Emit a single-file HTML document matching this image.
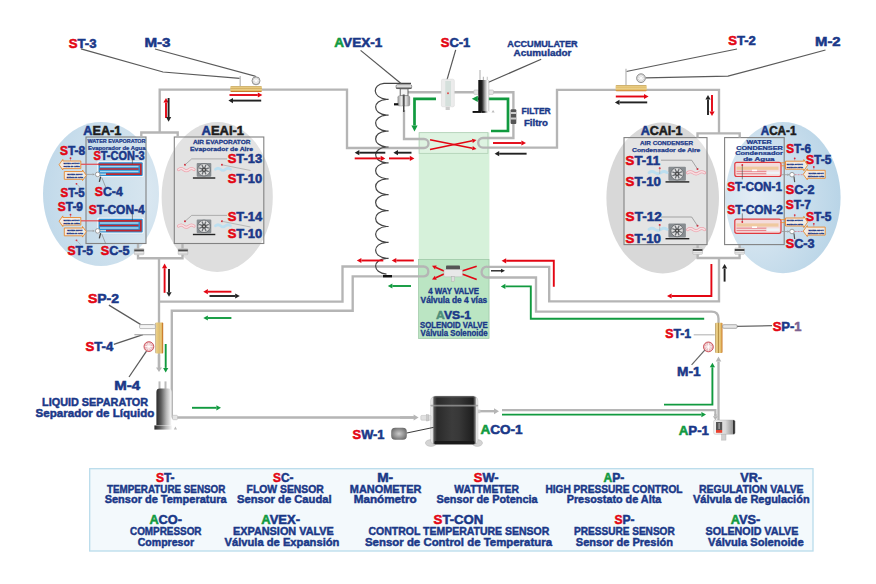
<!DOCTYPE html>
<html><head><meta charset="utf-8"><title>Refrigeration circuit diagram</title>
<style>
html,body{margin:0;padding:0;background:#fff;overflow:hidden;}
svg{display:block;}
text{font-family:"Liberation Sans",sans-serif;font-weight:bold;fill:#1a3888;stroke:#1a3888;stroke-width:0.35px;}
</style></head><body>
<svg width="876" height="584" viewBox="0 0 876 584">
<defs>
<radialGradient id="gBlueL" cx="0.75" cy="0.5" r="0.8"><stop offset="0" stop-color="#e0ebf3"/><stop offset="1" stop-color="#bfd8e9"/></radialGradient>
<radialGradient id="gBlueR" cx="0.25" cy="0.5" r="0.8"><stop offset="0" stop-color="#e3edf5"/><stop offset="1" stop-color="#b6d3e6"/></radialGradient>
<linearGradient id="gCyl" x1="0" x2="1" y1="0" y2="0"><stop offset="0" stop-color="#111"/><stop offset="0.35" stop-color="#222"/><stop offset="0.6" stop-color="#999"/><stop offset="0.85" stop-color="#f2f2f2"/><stop offset="1" stop-color="#fff"/></linearGradient>
<linearGradient id="gGold" x1="0" x2="0" y1="0" y2="1"><stop offset="0" stop-color="#9c7a3a"/><stop offset="0.12" stop-color="#e9cf8a"/><stop offset="0.4" stop-color="#e4c272"/><stop offset="0.46" stop-color="#b08a40"/><stop offset="0.54" stop-color="#e9cf8a"/><stop offset="0.82" stop-color="#e2b860"/><stop offset="0.92" stop-color="#c9782a"/><stop offset="1" stop-color="#c9782a"/></linearGradient>
<linearGradient id="gGoldV" x1="0" x2="1" y1="0" y2="0"><stop offset="0" stop-color="#9c7a3a"/><stop offset="0.12" stop-color="#e9cf8a"/><stop offset="0.4" stop-color="#e4c272"/><stop offset="0.46" stop-color="#b08a40"/><stop offset="0.54" stop-color="#e9cf8a"/><stop offset="0.82" stop-color="#e2b860"/><stop offset="0.92" stop-color="#c9782a"/><stop offset="1" stop-color="#c9782a"/></linearGradient>
<linearGradient id="gWbox" x1="0" x2="1" y1="0" y2="0"><stop offset="0" stop-color="#c6dcea"/><stop offset="1" stop-color="#d6e5ef"/></linearGradient>
<linearGradient id="gMetal" x1="0" x2="1" y1="0" y2="0"><stop offset="0" stop-color="#999"/><stop offset="0.35" stop-color="#f4f4f4"/><stop offset="0.7" stop-color="#ddd"/><stop offset="1" stop-color="#8a8a8a"/></linearGradient>
</defs>
<ellipse cx="101" cy="194" rx="58" ry="72" fill="url(#gBlueL)"/>
<ellipse cx="217.2" cy="197" rx="55.6" ry="75" fill="#dedede"/>
<ellipse cx="662.7" cy="198" rx="56.3" ry="75.5" fill="#d8d8d8"/>
<ellipse cx="783" cy="197.6" rx="57.6" ry="75.6" fill="url(#gBlueR)"/>
<rect x="418.8" y="132.3" width="70.6" height="206.2" fill="#d6f1da"/>
<rect x="418.5" y="259" width="70.5" height="79.5" fill="#bbe5c3"/>
<rect x="419.1" y="132.7" width="68.8" height="20.6" fill="#def3e1" stroke="#a9c9ae" stroke-width="0.7"/>
<rect x="418.5" y="259.5" width="70.5" height="79" fill="none" stroke="#9dc7a5" stroke-width="0.7"/>
<rect x="86" y="137" width="60" height="106.5" fill="url(#gWbox)" stroke="#828282" stroke-width="1.1"/>
<rect x="174.3" y="137" width="89.5" height="106.5" fill="#fff" fill-opacity="0.15" stroke="#828282" stroke-width="1.1"/>
<rect x="624" y="137.6" width="83" height="107" fill="#fff" fill-opacity="0.3" stroke="#828282" stroke-width="1.1"/>
<rect x="724.6" y="137.6" width="59.6" height="107" fill="none" stroke="#828282" stroke-width="1.1"/>
<polyline points="159.7,132.5 159.7,89.6 347.0,89.6 347.0,148.0 424.0,148.0" fill="none" stroke="#b5b5b5" stroke-width="2.35" stroke-linejoin="miter"/>
<polyline points="141.3,137.0 141.3,132.5 177.7,132.5 177.7,137.0" fill="none" stroke="#b5b5b5" stroke-width="2.35" stroke-linejoin="miter"/>
<polyline points="138.0,244.0 138.0,258.2 182.5,258.2 182.5,244.0" fill="none" stroke="#b5b5b5" stroke-width="2.35" stroke-linejoin="miter"/>
<polyline points="159.0,258.2 159.0,368.0" fill="none" stroke="#b5b5b5" stroke-width="2.35" stroke-linejoin="miter"/>
<polyline points="159.0,301.6 342.5,301.6 342.5,266.5 424.0,266.5" fill="none" stroke="#b5b5b5" stroke-width="2.35" stroke-linejoin="miter"/>
<polyline points="424.0,276.4 352.7,276.4 352.7,310.7 171.8,310.7 171.8,417.5" fill="none" stroke="#b5b5b5" stroke-width="2.35" stroke-linejoin="miter"/>
<path d="M424,139 a4.5,4.5 0 0 1 0,9" fill="none" stroke="#b5b5b5" stroke-width="2.35"/>
<path d="M424,266.5 a5,5 0 0 1 0,9.9" fill="none" stroke="#b5b5b5" stroke-width="2.35"/>
<path d="M483,138 a4.8,4.8 0 0 0 0,9.6" fill="none" stroke="#b5b5b5" stroke-width="2.35"/>
<path d="M487,266.6 a5.4,5.4 0 0 0 0,10.9" fill="none" stroke="#b5b5b5" stroke-width="2.35"/>
<polyline points="424.0,139.0 404.0,139.0 404.0,110.0" fill="none" stroke="#b5b5b5" stroke-width="2.35" stroke-linejoin="miter"/>
<polyline points="408.0,92.2 513.4,92.2 513.4,138.0 483.0,138.0" fill="none" stroke="#b5b5b5" stroke-width="2.35" stroke-linejoin="miter"/>
<polyline points="483.0,147.6 557.0,147.6 557.0,89.8 719.0,89.8 719.0,133.0" fill="none" stroke="#b5b5b5" stroke-width="2.35" stroke-linejoin="miter"/>
<polyline points="697.5,137.6 697.5,133.3 739.7,133.3 739.7,137.6" fill="none" stroke="#b5b5b5" stroke-width="2.35" stroke-linejoin="miter"/>
<polyline points="697.6,245.0 697.6,258.0 739.6,258.0 739.6,245.0" fill="none" stroke="#b5b5b5" stroke-width="2.35" stroke-linejoin="miter"/>
<polyline points="719.0,258.0 719.0,301.3 549.2,301.3 549.2,266.8 487.0,266.8" fill="none" stroke="#b5b5b5" stroke-width="2.35" stroke-linejoin="miter"/>
<path d="M487,277.5 H536 V311.6 H711.5 Q718.5,311.6 718.5,318.6 V353" fill="none" stroke="#b5b5b5" stroke-width="2.35"/>
<polyline points="502.0,410.2 715.4,410.2 715.4,416.0" fill="none" stroke="#b5b5b5" stroke-width="2.2" stroke-linejoin="miter"/>
<polyline points="715.4,414.0 715.4,416.3" fill="none" stroke="#b5b5b5" stroke-width="2.2"/>
<polygon points="715.4,420.3 712.9,416.3 717.9,416.3" fill="#b5b5b5"/>
<polyline points="171.8,417.5 414.0,417.5" fill="none" stroke="#b5b5b5" stroke-width="2.35" stroke-linejoin="miter"/>
<path d="M411,83.4 H384 C372,84.4 372,97.9 386.5,99.3 M388.6,99.3 L385,99.3 L386.5,99.3 C372,100.3 372,113.8 386.5,115.2 M388.6,115.2 L385,115.2 L386.5,115.2 C372,116.2 372,129.7 386.5,131.1 M388.6,131.1 L385,131.1 L386.5,131.1 C372,132.1 372,145.6 386.5,147.0 M388.6,147.0 L385,147.0 L386.5,147.0 C372,148.0 372,161.5 386.5,162.9 M388.6,162.9 L385,162.9 L386.5,162.9 C372,163.9 372,177.4 386.5,178.8 M388.6,178.8 L385,178.8 L386.5,178.8 C372,179.8 372,193.3 386.5,194.7 M388.6,194.7 L385,194.7 L386.5,194.7 C372,195.7 372,209.2 386.5,210.6 M388.6,210.6 L385,210.6 L386.5,210.6 C372,211.6 372,225.1 386.5,226.5 M388.6,226.5 L385,226.5 L386.5,226.5 C372,227.5 372,241.0 386.5,242.4 M388.6,242.4 L385,242.4 L386.5,242.4 C372,243.4 372,256.9 386.5,258.3 M388.6,258.3 L385,258.3 L386.5,258.3 C372,259.3 372,272.8 386.5,274.2" fill="none" stroke="#444" stroke-width="1.2"/>
<rect x="383" y="275" width="9" height="2.4" fill="#111"/>
<polyline points="229.5,95.0 257.8,95.0" fill="none" stroke="#e30613" stroke-width="1.9"/>
<polygon points="262.4,95.0 257.8,97.6 257.8,92.4" fill="#e30613"/>
<polyline points="261.2,100.6 233.0,100.6" fill="none" stroke="#222" stroke-width="1.9"/>
<polygon points="228.4,100.6 233.0,98.0 233.0,103.2" fill="#222"/>
<polyline points="166.0,118.0 166.0,102.6" fill="none" stroke="#e30613" stroke-width="1.9"/>
<polygon points="166.0,98.0 168.6,102.6 163.4,102.6" fill="#e30613"/>
<polyline points="168.6,98.0 168.6,117.1" fill="none" stroke="#222" stroke-width="1.9"/>
<polygon points="168.6,121.7 166.0,117.1 171.2,117.1" fill="#222"/>
<polyline points="615.8,96.5 644.0,96.5" fill="none" stroke="#e30613" stroke-width="1.9"/>
<polygon points="648.6,96.5 644.0,99.1 644.0,93.9" fill="#e30613"/>
<polyline points="647.2,102.4 619.5,102.4" fill="none" stroke="#222" stroke-width="1.9"/>
<polygon points="614.9,102.4 619.5,99.8 619.5,105.0" fill="#222"/>
<polyline points="708.0,115.0 708.0,99.6" fill="none" stroke="#222" stroke-width="1.9"/>
<polygon points="708.0,95.0 710.6,99.6 705.4,99.6" fill="#222"/>
<polyline points="712.0,95.0 712.0,111.4" fill="none" stroke="#e30613" stroke-width="1.9"/>
<polygon points="712.0,116.0 709.4,111.4 714.6,111.4" fill="#e30613"/>
<polyline points="493.0,143.0 521.4,143.0" fill="none" stroke="#e30613" stroke-width="1.9"/>
<polygon points="526.0,143.0 521.4,145.6 521.4,140.4" fill="#e30613"/>
<polyline points="526.6,153.7 499.2,153.7" fill="none" stroke="#222" stroke-width="1.9"/>
<polygon points="494.6,153.7 499.2,151.1 499.2,156.3" fill="#222"/>
<polyline points="411.5,152.7 398.0,152.7" fill="none" stroke="#222" stroke-width="1.9"/>
<polygon points="393.4,152.7 398.0,150.1 398.0,155.3" fill="#222"/>
<polyline points="389.0,158.4 409.8,158.4" fill="none" stroke="#e30613" stroke-width="1.9"/>
<polygon points="414.4,158.4 409.8,161.0 409.8,155.8" fill="#e30613"/>
<polyline points="385.3,152.7 359.3,152.7" fill="none" stroke="#222" stroke-width="1.9"/>
<polygon points="354.7,152.7 359.3,150.1 359.3,155.3" fill="#222"/>
<polyline points="354.7,158.4 380.7,158.4" fill="none" stroke="#e30613" stroke-width="1.9"/>
<polygon points="385.3,158.4 380.7,161.0 380.7,155.8" fill="#e30613"/>
<polyline points="164.6,292.8 164.6,268.2" fill="none" stroke="#e30613" stroke-width="1.9"/>
<polygon points="164.6,263.6 167.2,268.2 162.0,268.2" fill="#e30613"/>
<polyline points="169.0,269.0 169.0,292.2" fill="none" stroke="#222" stroke-width="1.9"/>
<polygon points="169.0,296.8 166.4,292.2 171.6,292.2" fill="#222"/>
<polyline points="231.4,291.7 207.9,291.7" fill="none" stroke="#e30613" stroke-width="1.9"/>
<polygon points="203.3,291.7 207.9,289.1 207.9,294.3" fill="#e30613"/>
<polyline points="209.5,296.0 235.2,296.0" fill="none" stroke="#222" stroke-width="1.9"/>
<polygon points="239.8,296.0 235.2,298.6 235.2,293.4" fill="#222"/>
<polyline points="231.4,318.0 207.9,318.0" fill="none" stroke="#119a3f" stroke-width="1.9"/>
<polygon points="203.3,318.0 207.9,315.4 207.9,320.6" fill="#119a3f"/>
<polyline points="165.7,344.0 165.7,367.9" fill="none" stroke="#119a3f" stroke-width="1.9"/>
<polygon points="165.7,372.5 163.1,367.9 168.3,367.9" fill="#119a3f"/>
<polyline points="413.8,260.5 396.3,260.5" fill="none" stroke="#e30613" stroke-width="1.9"/>
<polygon points="391.7,260.5 396.3,257.9 396.3,263.1" fill="#e30613"/>
<polyline points="383.3,260.5 361.4,260.5" fill="none" stroke="#e30613" stroke-width="1.9"/>
<polygon points="356.8,260.5 361.4,257.9 361.4,263.1" fill="#e30613"/>
<polyline points="411.0,286.0 392.4,286.0" fill="none" stroke="#119a3f" stroke-width="1.9"/>
<polygon points="387.8,286.0 392.4,283.4 392.4,288.6" fill="#119a3f"/>
<polyline points="192.0,407.8 216.4,407.8" fill="none" stroke="#119a3f" stroke-width="1.9"/>
<polygon points="221.0,407.8 216.4,410.4 216.4,405.2" fill="#119a3f"/>
<polyline points="553.8,286.8 553.8,260.8 506.2,260.8" fill="none" stroke="#e30613" stroke-width="1.9"/>
<polygon points="501.6,260.8 506.2,258.2 506.2,263.4" fill="#e30613"/>
<polyline points="704.2,318.8 530.8,318.8 530.8,286.4 505.4,286.4" fill="none" stroke="#119a3f" stroke-width="1.9"/>
<polygon points="500.8,286.4 505.4,283.8 505.4,289.0" fill="#119a3f"/>
<polyline points="711.4,264.0 711.4,296.0 671.6,296.0" fill="none" stroke="#e30613" stroke-width="1.9"/>
<polygon points="667.0,296.0 671.6,293.4 671.6,298.6" fill="#e30613"/>
<polyline points="724.6,281.6 724.6,268.6" fill="none" stroke="#222" stroke-width="1.9"/>
<polygon points="724.6,264.0 727.2,268.6 722.0,268.6" fill="#222"/>
<polyline points="502.0,414.6 701.4,414.6" fill="none" stroke="#119a3f" stroke-width="1.9"/>
<polygon points="706.0,414.6 701.4,417.2 701.4,412.0" fill="#119a3f"/>
<polyline points="664.0,404.6 712.4,404.6 712.4,367.3" fill="none" stroke="#119a3f" stroke-width="1.9"/>
<polygon points="712.4,362.7 715.0,367.3 709.8,367.3" fill="#119a3f"/>
<polyline points="491.0,270.8 501.0,270.8" fill="none" stroke="#222" stroke-width="1.4"/>
<polygon points="505.0,270.8 501.0,272.8 501.0,268.8" fill="#222"/>
<polyline points="718.5,420.0 718.5,361.6" fill="none" stroke="#b5b5b5" stroke-width="2.35"/>
<polygon points="718.5,356.6 721.3,361.6 715.7,361.6" fill="#b5b5b5"/>
<polyline points="159.0,355.0 159.0,367.5" fill="none" stroke="#b5b5b5" stroke-width="2.35"/>
<polygon points="159.0,372.0 156.0,367.5 162.0,367.5" fill="#b5b5b5"/>
<polyline points="400.0,417.5 413.6,417.5" fill="none" stroke="#b5b5b5" stroke-width="2.35"/>
<polygon points="418.6,417.5 413.6,420.5 413.6,414.5" fill="#b5b5b5"/>
<polyline points="478.0,411.2 494.0,411.2" fill="none" stroke="#b5b5b5" stroke-width="2.35"/>
<polygon points="499.0,411.2 494.0,414.2 494.0,408.2" fill="#b5b5b5"/>
<polyline points="436.0,98.8 414.5,98.8 414.5,125.5" fill="none" stroke="#119a3f" stroke-width="2.7"/>
<polygon points="414.5,131.5 411.4,125.5 417.6,125.5" fill="#119a3f"/>
<polyline points="491.0,131.0 508.0,131.0 508.0,98.8 477.8,98.8" fill="none" stroke="#119a3f" stroke-width="2.7"/>
<polygon points="471.8,98.8 477.8,95.7 477.8,101.9" fill="#119a3f"/>
<polyline points="430.0,139.7 472.4,148.2" fill="none" stroke="#e30613" stroke-width="1.6"/>
<polygon points="476.5,149.0 472.0,150.3 472.8,146.0" fill="#e30613"/>
<polyline points="430.0,149.5 472.4,140.8" fill="none" stroke="#e30613" stroke-width="1.6"/>
<polygon points="476.5,140.0 472.8,143.0 471.9,138.7" fill="#e30613"/>
<rect x="89.7" y="468.7" width="723.3" height="82.3" fill="#f3f9fc" stroke="#b9dcec" stroke-width="1.3"/>
<text x="155.9" y="482.2" font-size="13.2" textLength="18.7" lengthAdjust="spacingAndGlyphs" style="stroke-width:0.55px"><tspan fill="#e30613" stroke="#e30613">S</tspan>T-</text>
<text x="107.0" y="492.8" font-size="10.6" textLength="118.3" lengthAdjust="spacingAndGlyphs" style="stroke-width:0.45px">TEMPERATURE SENSOR</text>
<text x="104.7" y="503.3" font-size="10.6" textLength="121.9" lengthAdjust="spacingAndGlyphs" style="stroke-width:0.45px">Sensor de Temperatura</text>
<text x="273.0" y="482.2" font-size="13.2" textLength="20.4" lengthAdjust="spacingAndGlyphs" style="stroke-width:0.55px"><tspan fill="#e30613" stroke="#e30613">S</tspan>C-</text>
<text x="246.6" y="492.8" font-size="10.6" textLength="77.2" lengthAdjust="spacingAndGlyphs" style="stroke-width:0.45px">FLOW SENSOR</text>
<text x="237.0" y="503.3" font-size="10.6" textLength="94.6" lengthAdjust="spacingAndGlyphs" style="stroke-width:0.45px">Sensor de Caudal</text>
<text x="377.2" y="482.2" font-size="13.2" textLength="16.0" lengthAdjust="spacingAndGlyphs" style="stroke-width:0.55px"><tspan fill="#1a3888" stroke="#1a3888"></tspan>M-</text>
<text x="349.8" y="492.8" font-size="10.6" textLength="71.6" lengthAdjust="spacingAndGlyphs" style="stroke-width:0.45px">MANOMETER</text>
<text x="353.7" y="503.3" font-size="10.6" textLength="63.0" lengthAdjust="spacingAndGlyphs" style="stroke-width:0.45px">Manómetro</text>
<text x="473.8" y="482.2" font-size="13.2" textLength="24.8" lengthAdjust="spacingAndGlyphs" style="stroke-width:0.55px"><tspan fill="#e30613" stroke="#e30613">S</tspan>W-</text>
<text x="454.3" y="492.8" font-size="10.6" textLength="64.7" lengthAdjust="spacingAndGlyphs" style="stroke-width:0.45px">WATTMETER</text>
<text x="436.5" y="503.3" font-size="10.6" textLength="101.1" lengthAdjust="spacingAndGlyphs" style="stroke-width:0.45px">Sensor de Potencia</text>
<text x="603.6" y="482.2" font-size="13.2" textLength="20.8" lengthAdjust="spacingAndGlyphs" style="stroke-width:0.55px"><tspan fill="#119a3f" stroke="#119a3f">A</tspan>P-</text>
<text x="545.4" y="492.8" font-size="10.6" textLength="137.1" lengthAdjust="spacingAndGlyphs" style="stroke-width:0.45px">HIGH PRESSURE CONTROL</text>
<text x="566.7" y="503.3" font-size="10.6" textLength="94.6" lengthAdjust="spacingAndGlyphs" style="stroke-width:0.45px">Presostato de Alta</text>
<text x="740.2" y="482.2" font-size="13.2" textLength="21.8" lengthAdjust="spacingAndGlyphs" style="stroke-width:0.55px"><tspan fill="#1a3888" stroke="#1a3888"></tspan>VR-</text>
<text x="699.0" y="492.8" font-size="10.6" textLength="104.6" lengthAdjust="spacingAndGlyphs" style="stroke-width:0.45px">REGULATION VALVE</text>
<text x="693.0" y="503.3" font-size="10.6" textLength="116.6" lengthAdjust="spacingAndGlyphs" style="stroke-width:0.45px">Válvula de Regulación</text>
<text x="149.4" y="523.9" font-size="13.2" textLength="32.6" lengthAdjust="spacingAndGlyphs" style="stroke-width:0.55px"><tspan fill="#119a3f" stroke="#119a3f">A</tspan>CO-</text>
<text x="130.0" y="535.1" font-size="10.6" textLength="71.5" lengthAdjust="spacingAndGlyphs" style="stroke-width:0.45px">COMPRESSOR</text>
<text x="137.7" y="545.7" font-size="10.6" textLength="56.3" lengthAdjust="spacingAndGlyphs" style="stroke-width:0.45px">Compresor</text>
<text x="261.3" y="523.9" font-size="13.2" textLength="38.7" lengthAdjust="spacingAndGlyphs" style="stroke-width:0.55px"><tspan fill="#119a3f" stroke="#119a3f">A</tspan>VEX-</text>
<text x="233.0" y="535.1" font-size="10.6" textLength="100.8" lengthAdjust="spacingAndGlyphs" style="stroke-width:0.45px">EXPANSION VALVE</text>
<text x="224.5" y="545.7" font-size="10.6" textLength="114.9" lengthAdjust="spacingAndGlyphs" style="stroke-width:0.45px">Válvula de Expansión</text>
<text x="433.6" y="523.9" font-size="13.2" textLength="49.8" lengthAdjust="spacingAndGlyphs" style="stroke-width:0.55px"><tspan fill="#e30613" stroke="#e30613">S</tspan>T-CON</text>
<text x="368.5" y="535.1" font-size="10.6" textLength="180.8" lengthAdjust="spacingAndGlyphs" style="stroke-width:0.45px">CONTROL TEMPERATURE SENSOR</text>
<text x="365.0" y="545.7" font-size="10.6" textLength="187.0" lengthAdjust="spacingAndGlyphs" style="stroke-width:0.45px">Sensor de Control de Temperatura</text>
<text x="614.4" y="523.9" font-size="13.2" textLength="20.0" lengthAdjust="spacingAndGlyphs" style="stroke-width:0.55px"><tspan fill="#e30613" stroke="#e30613">S</tspan>P-</text>
<text x="574.0" y="535.1" font-size="10.6" textLength="100.7" lengthAdjust="spacingAndGlyphs" style="stroke-width:0.45px">PRESSURE SENSOR</text>
<text x="575.8" y="545.7" font-size="10.6" textLength="97.2" lengthAdjust="spacingAndGlyphs" style="stroke-width:0.45px">Sensor de Presión</text>
<text x="730.7" y="523.9" font-size="13.2" textLength="29.5" lengthAdjust="spacingAndGlyphs" style="stroke-width:0.55px"><tspan fill="#119a3f" stroke="#119a3f">A</tspan>VS-</text>
<text x="705.5" y="535.1" font-size="10.6" textLength="92.9" lengthAdjust="spacingAndGlyphs" style="stroke-width:0.45px">SOLENOID VALVE</text>
<text x="708.0" y="545.7" font-size="10.6" textLength="95.6" lengthAdjust="spacingAndGlyphs" style="stroke-width:0.45px">Válvula Solenoide</text>
<text x="68.8" y="47.8" font-size="13.7" textLength="27.7" lengthAdjust="spacingAndGlyphs" style="stroke-width:0.58px"><tspan fill="#e30613" stroke="#e30613">S</tspan>T-3</text>
<text x="144.4" y="47.0" font-size="13.7" textLength="26.1" lengthAdjust="spacingAndGlyphs" style="stroke-width:0.58px"><tspan fill="#1a3888" stroke="#1a3888"></tspan>M-3</text>
<text x="334.3" y="47.0" font-size="13.7" textLength="48.0" lengthAdjust="spacingAndGlyphs" style="stroke-width:0.58px"><tspan fill="#119a3f" stroke="#119a3f">A</tspan>VEX-1</text>
<text x="440.8" y="47.0" font-size="13.7" textLength="29.5" lengthAdjust="spacingAndGlyphs" style="stroke-width:0.58px"><tspan fill="#e30613" stroke="#e30613">S</tspan>C-1</text>
<text x="507.3" y="46.6" font-size="9.8" textLength="70.3" lengthAdjust="spacingAndGlyphs" style="stroke-width:0.41px">ACCUMULATER</text>
<text x="513.5" y="55.8" font-size="9.8" textLength="57.9" lengthAdjust="spacingAndGlyphs" style="stroke-width:0.41px">Acumulador</text>
<text x="728.3" y="44.8" font-size="13.7" textLength="27.6" lengthAdjust="spacingAndGlyphs" style="stroke-width:0.58px"><tspan fill="#e30613" stroke="#e30613">S</tspan>T-2</text>
<text x="815.0" y="46.0" font-size="13.7" textLength="25.6" lengthAdjust="spacingAndGlyphs" style="stroke-width:0.58px"><tspan fill="#1a3888" stroke="#1a3888"></tspan>M-2</text>
<text x="521.6" y="114.3" font-size="9.7" textLength="29.1" lengthAdjust="spacingAndGlyphs" style="stroke-width:0.41px">FILTER</text>
<text x="523.9" y="126.0" font-size="9.7" textLength="24.1" lengthAdjust="spacingAndGlyphs" style="stroke-width:0.41px">Filtro</text>
<text x="83.3" y="134.7" font-size="13.5" textLength="38.1" lengthAdjust="spacingAndGlyphs" style="fill:#1c1c1c;stroke:#1c1c1c;stroke-width:0.57px"><tspan fill="#1a3888" stroke="#1a3888">A</tspan>EA-1</text>
<text x="201.6" y="134.7" font-size="13.5" textLength="42.4" lengthAdjust="spacingAndGlyphs" style="fill:#1c1c1c;stroke:#1c1c1c;stroke-width:0.57px"><tspan fill="#1a3888" stroke="#1a3888">A</tspan>EAI-1</text>
<text x="87.5" y="143.4" font-size="5.6" textLength="58.0" lengthAdjust="spacingAndGlyphs" style="stroke-width:0.24px">WATER EVAPORATOR</text>
<text x="88.0" y="150.2" font-size="5.8" textLength="57.5" lengthAdjust="spacingAndGlyphs" style="stroke-width:0.24px">Evaporador de Agua</text>
<text x="192.9" y="143.5" font-size="6.1" textLength="57.5" lengthAdjust="spacingAndGlyphs" style="stroke-width:0.26px">AIR EVAPORATOR</text>
<text x="190.0" y="150.5" font-size="6.1" textLength="63.0" lengthAdjust="spacingAndGlyphs" style="stroke-width:0.26px">Evaporador de Aire</text>
<text x="60.0" y="154.6" font-size="13.7" textLength="25.2" lengthAdjust="spacingAndGlyphs" style="stroke-width:0.58px"><tspan fill="#e30613" stroke="#e30613">S</tspan>T-8</text>
<text x="93.4" y="160.2" font-size="13" textLength="51.3" lengthAdjust="spacingAndGlyphs" style="stroke-width:0.55px"><tspan fill="#e30613" stroke="#e30613">S</tspan>T-CON-3</text>
<text x="60.5" y="196.5" font-size="13.7" textLength="24.2" lengthAdjust="spacingAndGlyphs" style="stroke-width:0.58px"><tspan fill="#e30613" stroke="#e30613">S</tspan>T-5</text>
<text x="94.8" y="195.7" font-size="13.7" textLength="27.9" lengthAdjust="spacingAndGlyphs" style="stroke-width:0.58px"><tspan fill="#e30613" stroke="#e30613">S</tspan>C-4</text>
<text x="57.8" y="210.8" font-size="13.7" textLength="25.2" lengthAdjust="spacingAndGlyphs" style="stroke-width:0.58px"><tspan fill="#e30613" stroke="#e30613">S</tspan>T-9</text>
<text x="88.8" y="213.8" font-size="13" textLength="55.9" lengthAdjust="spacingAndGlyphs" style="stroke-width:0.55px"><tspan fill="#e30613" stroke="#e30613">S</tspan>T-CON-4</text>
<text x="67.4" y="255.4" font-size="13.7" textLength="25.5" lengthAdjust="spacingAndGlyphs" style="stroke-width:0.58px"><tspan fill="#e30613" stroke="#e30613">S</tspan>T-5</text>
<text x="100.8" y="255.4" font-size="13.7" textLength="28.8" lengthAdjust="spacingAndGlyphs" style="stroke-width:0.58px"><tspan fill="#e30613" stroke="#e30613">S</tspan>C-5</text>
<text x="227.7" y="162.8" font-size="13.7" textLength="34.5" lengthAdjust="spacingAndGlyphs" style="stroke-width:0.58px"><tspan fill="#e30613" stroke="#e30613">S</tspan>T-13</text>
<text x="227.7" y="182.8" font-size="13.7" textLength="34.5" lengthAdjust="spacingAndGlyphs" style="stroke-width:0.58px"><tspan fill="#e30613" stroke="#e30613">S</tspan>T-10</text>
<text x="227.7" y="221.2" font-size="13.7" textLength="34.5" lengthAdjust="spacingAndGlyphs" style="stroke-width:0.58px"><tspan fill="#e30613" stroke="#e30613">S</tspan>T-14</text>
<text x="227.7" y="237.8" font-size="13.7" textLength="34.5" lengthAdjust="spacingAndGlyphs" style="stroke-width:0.58px"><tspan fill="#e30613" stroke="#e30613">S</tspan>T-10</text>
<text x="640.7" y="134.7" font-size="13.5" textLength="41.7" lengthAdjust="spacingAndGlyphs" style="fill:#1c1c1c;stroke:#1c1c1c;stroke-width:0.57px"><tspan fill="#1a3888" stroke="#1a3888">A</tspan>CAI-1</text>
<text x="760.7" y="134.7" font-size="13.5" textLength="35.7" lengthAdjust="spacingAndGlyphs" style="fill:#1c1c1c;stroke:#1c1c1c;stroke-width:0.57px"><tspan fill="#1a3888" stroke="#1a3888">A</tspan>CA-1</text>
<text x="640.0" y="144.9" font-size="5.9" textLength="53.0" lengthAdjust="spacingAndGlyphs" style="stroke-width:0.25px">AIR CONDENSER</text>
<text x="632.0" y="151.7" font-size="5.9" textLength="68.4" lengthAdjust="spacingAndGlyphs" style="stroke-width:0.25px">Condensador de Aire</text>
<text x="625.6" y="165.3" font-size="13.7" textLength="34.4" lengthAdjust="spacingAndGlyphs" style="stroke-width:0.58px"><tspan fill="#e30613" stroke="#e30613">S</tspan>T-11</text>
<text x="625.6" y="185.8" font-size="13.7" textLength="35.4" lengthAdjust="spacingAndGlyphs" style="stroke-width:0.58px"><tspan fill="#e30613" stroke="#e30613">S</tspan>T-10</text>
<text x="625.6" y="221.3" font-size="13.7" textLength="36.1" lengthAdjust="spacingAndGlyphs" style="stroke-width:0.58px"><tspan fill="#e30613" stroke="#e30613">S</tspan>T-12</text>
<text x="625.6" y="243.2" font-size="13.7" textLength="35.4" lengthAdjust="spacingAndGlyphs" style="stroke-width:0.58px"><tspan fill="#e30613" stroke="#e30613">S</tspan>T-10</text>
<text x="746.4" y="143.5" font-size="5.4" textLength="25.3" lengthAdjust="spacingAndGlyphs" style="stroke-width:0.23px">WATER</text>
<text x="736.2" y="149.8" font-size="5.4" textLength="46.6" lengthAdjust="spacingAndGlyphs" style="stroke-width:0.23px">CONDENSER</text>
<text x="735.3" y="155.2" font-size="5.6" textLength="47.5" lengthAdjust="spacingAndGlyphs" style="stroke-width:0.24px">Condensador</text>
<text x="743.2" y="161.0" font-size="5.6" textLength="31.4" lengthAdjust="spacingAndGlyphs" style="stroke-width:0.24px">de Agua</text>
<text x="786.3" y="153.0" font-size="13.7" textLength="24.7" lengthAdjust="spacingAndGlyphs" style="stroke-width:0.58px"><tspan fill="#e30613" stroke="#e30613">S</tspan>T-6</text>
<text x="806.0" y="164.4" font-size="13.7" textLength="25.4" lengthAdjust="spacingAndGlyphs" style="stroke-width:0.58px"><tspan fill="#e30613" stroke="#e30613">S</tspan>T-5</text>
<text x="727.2" y="190.8" font-size="13" textLength="54.8" lengthAdjust="spacingAndGlyphs" style="stroke-width:0.55px"><tspan fill="#e30613" stroke="#e30613">S</tspan>T-CON-1</text>
<text x="785.7" y="194.0" font-size="13.7" textLength="28.8" lengthAdjust="spacingAndGlyphs" style="stroke-width:0.58px"><tspan fill="#e30613" stroke="#e30613">S</tspan>C-2</text>
<text x="785.7" y="209.2" font-size="13.7" textLength="25.3" lengthAdjust="spacingAndGlyphs" style="stroke-width:0.58px"><tspan fill="#e30613" stroke="#e30613">S</tspan>T-7</text>
<text x="727.2" y="214.0" font-size="13" textLength="55.6" lengthAdjust="spacingAndGlyphs" style="stroke-width:0.55px"><tspan fill="#e30613" stroke="#e30613">S</tspan>T-CON-2</text>
<text x="806.0" y="220.8" font-size="13.7" textLength="25.4" lengthAdjust="spacingAndGlyphs" style="stroke-width:0.58px"><tspan fill="#e30613" stroke="#e30613">S</tspan>T-5</text>
<text x="785.7" y="248.4" font-size="13.7" textLength="28.8" lengthAdjust="spacingAndGlyphs" style="stroke-width:0.58px"><tspan fill="#e30613" stroke="#e30613">S</tspan>C-3</text>
<text x="428.2" y="294.0" font-size="8.2" textLength="50.8" lengthAdjust="spacingAndGlyphs" style="stroke-width:0.34px">4 WAY VALVE</text>
<text x="420.6" y="302.8" font-size="8.2" textLength="66.6" lengthAdjust="spacingAndGlyphs" style="stroke-width:0.34px">Válvula de 4 vías</text>
<text x="436.0" y="319.2" font-size="11.8" textLength="35.0" lengthAdjust="spacingAndGlyphs" style="stroke-width:0.50px"><tspan fill="#4f8f7a" stroke="#4f8f7a">A</tspan>VS-1</text>
<text x="420.0" y="327.7" font-size="8.2" textLength="67.6" lengthAdjust="spacingAndGlyphs" style="stroke-width:0.34px">SOLENOID VALVE</text>
<text x="420.6" y="336.0" font-size="8.2" textLength="67.0" lengthAdjust="spacingAndGlyphs" style="stroke-width:0.34px">Válvula Solenoide</text>
<text x="87.9" y="302.9" font-size="13.7" textLength="31.1" lengthAdjust="spacingAndGlyphs" style="stroke-width:0.58px"><tspan fill="#e30613" stroke="#e30613">S</tspan>P-2</text>
<text x="85.5" y="350.5" font-size="13.7" textLength="27.8" lengthAdjust="spacingAndGlyphs" style="stroke-width:0.58px"><tspan fill="#e30613" stroke="#e30613">S</tspan>T-4</text>
<text x="114.2" y="390.0" font-size="13.7" textLength="25.9" lengthAdjust="spacingAndGlyphs" style="stroke-width:0.58px"><tspan fill="#1a3888" stroke="#1a3888"></tspan>M-4</text>
<text x="42.1" y="405.8" font-size="11.6" textLength="106.0" lengthAdjust="spacingAndGlyphs" style="stroke-width:0.49px">LIQUID SEPARATOR</text>
<text x="35.6" y="416.6" font-size="11.6" textLength="118.8" lengthAdjust="spacingAndGlyphs" style="stroke-width:0.49px">Separador de Líquido</text>
<text x="352.6" y="438.8" font-size="13.7" textLength="31.9" lengthAdjust="spacingAndGlyphs" style="stroke-width:0.58px"><tspan fill="#e30613" stroke="#e30613">S</tspan>W-1</text>
<text x="665.2" y="337.5" font-size="13.7" textLength="25.9" lengthAdjust="spacingAndGlyphs" style="stroke-width:0.58px"><tspan fill="#e30613" stroke="#e30613">S</tspan>T-1</text>
<text x="772.7" y="330.8" font-size="13.7" textLength="28.9" lengthAdjust="spacingAndGlyphs" style="stroke-width:0.58px"><tspan fill="#e30613" stroke="#e30613">S</tspan>P-<tspan fill="#7d6290" stroke="#7d6290">1</tspan></text>
<text x="677.0" y="376.2" font-size="13.7" textLength="23.6" lengthAdjust="spacingAndGlyphs" style="stroke-width:0.58px"><tspan fill="#1a3888" stroke="#1a3888"></tspan>M-1</text>
<text x="480.4" y="434.2" font-size="13.7" textLength="42.2" lengthAdjust="spacingAndGlyphs" style="stroke-width:0.58px"><tspan fill="#119a3f" stroke="#119a3f">A</tspan>CO-1</text>
<text x="678.8" y="434.7" font-size="13.7" textLength="30.2" lengthAdjust="spacingAndGlyphs" style="stroke-width:0.58px"><tspan fill="#119a3f" stroke="#119a3f">A</tspan>P-1</text>
<polyline points="81.0,48.9 163.0,72.0 239.7,78.3" fill="none" stroke="#5a5a5a" stroke-width="1.25"/>
<polyline points="155.0,49.0 256.0,76.5" fill="none" stroke="#5a5a5a" stroke-width="1.25"/>
<polyline points="737.0,49.0 626.3,71.5" fill="none" stroke="#5a5a5a" stroke-width="1.25"/>
<polyline points="825.5,50.0 728.0,76.2 645.7,77.9" fill="none" stroke="#5a5a5a" stroke-width="1.25"/>
<polyline points="108.9,305.1 141.2,324.8 153.0,324.8" fill="none" stroke="#5a5a5a" stroke-width="1.25"/>
<polyline points="113.8,344.4 143.0,334.7" fill="none" stroke="#5a5a5a" stroke-width="1.25"/>
<polyline points="129.0,377.0 146.5,351.2" fill="none" stroke="#5a5a5a" stroke-width="1.25"/>
<rect x="230.3" y="86.0" width="31.6" height="6.0" rx="1" fill="url(#gGold)"/>
<rect x="615.6" y="85.0" width="31.1" height="6.3" rx="1" fill="url(#gGold)"/>
<rect x="155.5" y="322.4" width="7.7" height="31.1" rx="1" fill="url(#gGoldV)"/>
<rect x="715.2" y="322.8" width="7.3" height="30.2" rx="1" fill="url(#gGoldV)"/>
<circle cx="256.0" cy="80.8" r="4.0" fill="#d4d4d4" stroke="#8a8a8a" stroke-width="0.9"/>
<line x1="253.2" y1="80.8" x2="258.8" y2="80.8" stroke="#fff" stroke-width="0.9"/>
<line x1="254.0" y1="78.8" x2="258.0" y2="82.8" stroke="#fff" stroke-width="0.9"/>
<line x1="256.0" y1="78.0" x2="256.0" y2="83.6" stroke="#fff" stroke-width="0.9"/>
<line x1="258.0" y1="78.8" x2="254.0" y2="82.8" stroke="#fff" stroke-width="0.9"/>
<circle cx="641.0" cy="78.2" r="4.4" fill="#d4d4d4" stroke="#8a8a8a" stroke-width="0.9"/>
<line x1="637.8" y1="78.2" x2="644.2" y2="78.2" stroke="#fff" stroke-width="0.9"/>
<line x1="638.7" y1="75.9" x2="643.3" y2="80.5" stroke="#fff" stroke-width="0.9"/>
<line x1="641.0" y1="75.0" x2="641.0" y2="81.4" stroke="#fff" stroke-width="0.9"/>
<line x1="643.3" y1="75.9" x2="638.7" y2="80.5" stroke="#fff" stroke-width="0.9"/>
<circle cx="148.9" cy="346.6" r="4.9" fill="#e8b9bd" stroke="#c9454f" stroke-width="0.9"/>
<line x1="145.2" y1="346.6" x2="152.6" y2="346.6" stroke="#fff" stroke-width="0.9"/>
<line x1="146.3" y1="344.0" x2="151.5" y2="349.2" stroke="#fff" stroke-width="0.9"/>
<line x1="148.9" y1="342.9" x2="148.9" y2="350.3" stroke="#fff" stroke-width="0.9"/>
<line x1="151.5" y1="344.0" x2="146.3" y2="349.2" stroke="#fff" stroke-width="0.9"/>
<circle cx="708.4" cy="346.9" r="4.9" fill="#e8b9bd" stroke="#c9454f" stroke-width="0.9"/>
<line x1="704.7" y1="346.9" x2="712.1" y2="346.9" stroke="#fff" stroke-width="0.9"/>
<line x1="705.8" y1="344.3" x2="711.0" y2="349.5" stroke="#fff" stroke-width="0.9"/>
<line x1="708.4" y1="343.2" x2="708.4" y2="350.6" stroke="#fff" stroke-width="0.9"/>
<line x1="711.0" y1="344.3" x2="705.8" y2="349.5" stroke="#fff" stroke-width="0.9"/>
<polyline points="240.2,76.0 240.2,86.0" fill="none" stroke="#bbb" stroke-width="1.3"/>
<polyline points="626.0,68.7 626.0,85.0" fill="none" stroke="#bbb" stroke-width="1.3"/>
<polyline points="134.4,334.7 155.4,334.7" fill="none" stroke="#aaa" stroke-width="1.2"/>
<polyline points="693.7,334.8 714.8,334.8" fill="none" stroke="#bbb" stroke-width="1.2"/>
<rect x="139.6" y="324.6" width="15.8" height="4" rx="1.2" fill="#f4f4f4" stroke="#aaa" stroke-width="0.8"/>
<rect x="722.6" y="324.7" width="14.6" height="3.6" rx="1.2" fill="#e8e8e8" stroke="#999" stroke-width="0.8"/>
<polyline points="737.2,326.4 772.0,325.6" fill="none" stroke="#666" stroke-width="1.2"/>
<polyline points="691.6,364.8 704.8,350.2" fill="none" stroke="#666" stroke-width="1.2"/>
<polyline points="360.6,50.4 401.3,83.8" fill="none" stroke="#555" stroke-width="1.2"/>
<polyline points="455.7,49.8 445.8,83.8" fill="none" stroke="#555" stroke-width="1.2"/>
<polyline points="541.2,59.2 484.5,84.0" fill="none" stroke="#555" stroke-width="1.2"/>
<rect x="396" y="84.6" width="15.7" height="4" rx="1.5" fill="#ddd" stroke="#666" stroke-width="0.6"/>
<rect x="396.2" y="87.6" width="15.3" height="1.1" fill="#444"/>
<rect x="400.2" y="88.8" width="7.8" height="7" fill="#f4f4f4" stroke="#555" stroke-width="0.9"/>
<rect x="397.8" y="95.7" width="12" height="10.3" rx="1.5" fill="url(#gMetal)" stroke="#888" stroke-width="0.4"/>
<rect x="402.7" y="94.5" width="2" height="11.5" fill="#555"/>
<rect x="394" y="103.2" width="4.3" height="2.2" fill="#111"/>
<rect x="403" y="106" width="1.5" height="6" fill="#444"/>
<rect x="441.4" y="79.2" width="12.9" height="27.6" rx="1.5" fill="#ececec" stroke="#dadada" stroke-width="0.6"/>
<rect x="445.3" y="81" width="5.7" height="25" fill="#d5e0dc"/>
<rect x="445.6" y="106.8" width="4.2" height="3.2" fill="#ccc"/>
<circle cx="448" cy="93.3" r="1" fill="#e05050"/>
<polyline points="480.0,70.0 480.0,80.5" fill="none" stroke="#bbb" stroke-width="1.2"/>
<polyline points="483.4,76.8 483.4,80.5" fill="none" stroke="#bbb" stroke-width="1.2"/>
<polyline points="487.3,76.8 487.3,80.5" fill="none" stroke="#ccc" stroke-width="1.2"/>
<rect x="473.8" y="90" width="5" height="4.4" rx="1" fill="#e4e4e4" stroke="#bbb" stroke-width="0.6"/>
<rect x="488.5" y="90" width="5" height="4.4" rx="1" fill="#e4e4e4" stroke="#bbb" stroke-width="0.6"/>
<rect x="478.3" y="80" width="10.5" height="31.5" fill="url(#gCyl)"/>
<line x1="488.8" y1="80" x2="488.8" y2="112" stroke="#aaa" stroke-width="0.6"/>
<rect x="472.6" y="111" width="9" height="1.9" fill="#111"/>
<rect x="481.6" y="111" width="7.2" height="1.9" fill="url(#gCyl)"/>
<path d="M491.5,112.6 l1.6,-2.6 l1.6,2.6 z" fill="#bbb"/>
<rect x="510.6" y="109.2" width="5.7" height="14.8" rx="1" fill="#555"/>
<rect x="510.6" y="112" width="5.7" height="2" fill="#ccc"/>
<rect x="510.6" y="117.5" width="5.7" height="2" fill="#ccc"/>
<polyline points="444.0,271.0 435.9,267.5" fill="none" stroke="#e30613" stroke-width="1.6"/>
<polygon points="432.0,265.8 436.7,265.5 435.0,269.5" fill="#e30613"/>
<polyline points="444.0,274.0 435.8,277.8" fill="none" stroke="#e30613" stroke-width="1.6"/>
<polygon points="432.0,279.6 434.9,275.8 436.7,279.8" fill="#e30613"/>
<polyline points="462.0,271.0 476.7,266.3" fill="none" stroke="#e30613" stroke-width="1.6"/>
<polyline points="462.0,274.0 476.7,279.6" fill="none" stroke="#e30613" stroke-width="1.6"/>
<rect x="446" y="265.4" width="14" height="4.3" rx="0.8" fill="#555"/>
<rect x="444" y="269.5" width="18.4" height="7.3" rx="1" fill="#e8e8e8" stroke="#bbb" stroke-width="0.5"/>
<rect x="451.5" y="276.8" width="3.2" height="4.6" fill="#ddd" stroke="#aaa" stroke-width="0.4"/>
<linearGradient id="gComp" x1="0" x2="1" y1="0" y2="0"><stop offset="0" stop-color="#fff"/><stop offset="0.035" stop-color="#e4e4e4"/><stop offset="0.07" stop-color="#555"/><stop offset="0.13" stop-color="#2a2a2a"/><stop offset="0.45" stop-color="#3c3c3c"/><stop offset="0.6" stop-color="#383838"/><stop offset="0.9" stop-color="#1e1e1e"/><stop offset="0.945" stop-color="#777"/><stop offset="0.975" stop-color="#eee"/><stop offset="1" stop-color="#fff"/></linearGradient>
<ellipse cx="431" cy="443" rx="5.6" ry="3.4" fill="#d4d4d4" stroke="#aaa" stroke-width="0.4"/>
<ellipse cx="477.3" cy="443" rx="5.2" ry="3.4" fill="#d4d4d4" stroke="#aaa" stroke-width="0.4"/>
<path d="M430.8,441 V401 Q430.8,396.2 436,396.2 H472.6 Q477.8,396.2 477.8,401 V441 Q477.8,444.3 474,444.3 H434.6 Q430.8,444.3 430.8,441 Z" fill="url(#gComp)" stroke="#999" stroke-width="0.4"/>
<rect x="430.4" y="404.8" width="47.8" height="1.6" rx="0.8" fill="#9a9a9a" opacity="0.8"/>
<rect x="434.5" y="396.4" width="39.5" height="1" fill="#555"/>
<rect x="434.5" y="441" width="40" height="3.3" rx="1.2" fill="#1a1a1a"/>
<rect x="420.8" y="415.4" width="10.2" height="4.8" rx="1" fill="#e0e0e0" stroke="#b8b8b8" stroke-width="0.5"/>
<rect x="426.5" y="414.6" width="2.2" height="6.4" fill="#ccc" stroke="#aaa" stroke-width="0.3"/>
<rect x="477.8" y="409.6" width="2.6" height="3.6" fill="#ccc"/>
<radialGradient id="gSW" cx="0.5" cy="0.5" r="0.6"><stop offset="0" stop-color="#ccc"/><stop offset="1" stop-color="#666"/></radialGradient>
<rect x="391.2" y="427.8" width="15.6" height="11.9" rx="4" fill="url(#gSW)"/>
<polyline points="406.8,433.0 433.5,427.4" fill="none" stroke="#222" stroke-width="0.9"/>
<polyline points="159.5,381.4 159.5,389.0" fill="none" stroke="#bbb" stroke-width="2"/>
<polyline points="165.5,381.4 165.5,389.0" fill="none" stroke="#bbb" stroke-width="2"/>
<linearGradient id="gLS" x1="0" x2="1" y1="0" y2="0"><stop offset="0" stop-color="#2a2a2a"/><stop offset="0.3" stop-color="#5a5a5a"/><stop offset="0.65" stop-color="#b5b5b5"/><stop offset="1" stop-color="#fafafa"/></linearGradient>
<path d="M156.4,425 V392 Q156.4,388.6 160,388.6 H168 Q171.5,388.6 171.5,392 V425 Z" fill="url(#gLS)"/>
<rect x="154.4" y="425.4" width="17.6" height="4.2" fill="url(#gLS)"/>
<path d="M173.8,429.6 l1.6,-3 l1.6,3 z" fill="#bbb"/>
<rect x="172.5" y="415.3" width="5" height="4.4" rx="1" fill="#e4e4e4" stroke="#bbb" stroke-width="0.6"/>
<linearGradient id="gAP" x1="0" x2="1" y1="0" y2="0"><stop offset="0" stop-color="#f4f4f4"/><stop offset="0.55" stop-color="#d8d8d8"/><stop offset="0.88" stop-color="#9a9a9a"/><stop offset="0.9" stop-color="#333"/><stop offset="1" stop-color="#333"/></linearGradient>
<rect x="713.7" y="420" width="21.4" height="14.3" rx="1.5" fill="url(#gAP)" stroke="#aaa" stroke-width="0.4"/>
<rect x="716" y="422" width="6.2" height="8" fill="#555"/>
<rect x="718.6" y="423" width="1" height="6" fill="#bbb"/>
<rect x="716" y="430" width="6.2" height="2.8" fill="#e8412f"/>
<rect x="721.6" y="434.3" width="4.4" height="5.8" fill="#d0d0d0" stroke="#aaa" stroke-width="0.4"/>
<rect x="134.3" y="248.5" width="9.6" height="6.2" rx="0.8" fill="#ececec" stroke="#aaa" stroke-width="0.5"/>
<rect x="134.3" y="249.4" width="9.6" height="2" fill="#4a4a4a"/>
<rect x="134.3" y="252.9" width="9.6" height="0.6" fill="#bbb"/>
<rect x="178.2" y="248.5" width="9.6" height="6.2" rx="0.8" fill="#ececec" stroke="#aaa" stroke-width="0.5"/>
<rect x="178.2" y="249.4" width="9.6" height="2" fill="#4a4a4a"/>
<rect x="178.2" y="252.9" width="9.6" height="0.6" fill="#bbb"/>
<rect x="692.8" y="248.1" width="9.6" height="6.2" rx="0.8" fill="#ececec" stroke="#aaa" stroke-width="0.5"/>
<rect x="692.8" y="249.0" width="9.6" height="2" fill="#4a4a4a"/>
<rect x="692.8" y="252.5" width="9.6" height="0.6" fill="#bbb"/>
<rect x="734.8" y="248.1" width="9.6" height="6.2" rx="0.8" fill="#ececec" stroke="#aaa" stroke-width="0.5"/>
<rect x="734.8" y="249.0" width="9.6" height="2" fill="#4a4a4a"/>
<rect x="734.8" y="252.5" width="9.6" height="0.6" fill="#bbb"/>
<rect x="96.8" y="160.8" width="47.4" height="16.6" rx="1.5" fill="#f4f8fb" stroke="#c5d3dd" stroke-width="0.5"/>
<rect x="98.5" y="162.3" width="44.2" height="13.8" rx="1" fill="#2b8fd3"/>
<line x1="100" y1="166.6" x2="138.5" y2="166.6" stroke="#a5d8f0" stroke-width="1.5"/>
<line x1="100" y1="171.5" x2="138.5" y2="171.5" stroke="#a5d8f0" stroke-width="1.5"/>
<path d="M80.8,164.3 H99" fill="none" stroke="#e2555d" stroke-width="1.3"/>
<path d="M98.5,164.3 H140.8 V174.2 H106" fill="none" stroke="#c0272d" stroke-width="1.7"/>
<line x1="99.5" y1="169.0" x2="138.5" y2="169.0" stroke="#c0272d" stroke-width="1.7"/>
<line x1="100" y1="174.2" x2="106" y2="174.2" stroke="#ddd" stroke-width="1.2"/>
<path d="M59.1,164.7 L62.8,159.4 V161.0 H80.8 V168.6 H62.8 V170.0 Z" fill="#f1ebe3" stroke="#e8892f" stroke-width="0.9"/>
<path d="M86.3,175.3 L82.5,170.0 V171.5 H64.3 V179.3 H82.5 V180.6 Z" fill="#f1ebe3" stroke="#e8892f" stroke-width="0.9"/>
<text x="71.5" y="164.3" font-size="2.4" stroke="none" fill-opacity="0.85" textLength="16.0" lengthAdjust="spacingAndGlyphs" text-anchor="middle">WATER OUTPUT</text>
<text x="71.5" y="167.4" font-size="2.4" stroke="none" fill-opacity="0.85" textLength="16.0" lengthAdjust="spacingAndGlyphs" text-anchor="middle">Salida de Agua</text>
<text x="74.8" y="174.8" font-size="2.4" stroke="none" fill-opacity="0.85" textLength="15.0" lengthAdjust="spacingAndGlyphs" text-anchor="middle">WATER INPUT</text>
<text x="74.8" y="177.9" font-size="2.4" stroke="none" fill-opacity="0.85" textLength="16.0" lengthAdjust="spacingAndGlyphs" text-anchor="middle">Entrada de Agua</text>
<polyline points="86.5,174.4 92.6,174.4" fill="none" stroke="#999" stroke-width="0.8"/>
<polygon points="94.8,174.4 92.6,175.6 92.6,173.2" fill="#999"/>
<circle cx="97.7" cy="174.4" r="2.3" fill="#fff" stroke="#888" stroke-width="0.8"/>
<polyline points="100.6,176.6 99.3,181.8" fill="none" stroke="#444" stroke-width="1.3"/>
<polyline points="101.8,177.6 105.8,187.5" fill="none" stroke="#777" stroke-width="0.6"/>
<circle cx="70.5" cy="158.2" r="0.9" fill="#d23"/>
<polyline points="70.5,158.2 70.5,160.6" fill="none" stroke="#c55" stroke-width="0.5"/>
<circle cx="76.5" cy="183.8" r="0.9" fill="#d23"/>
<polyline points="76.5,183.8 80.5,188.0" fill="none" stroke="#999" stroke-width="0.5"/>
<polyline points="132.4,157.0 132.4,164.2" fill="none" stroke="#444" stroke-width="0.6"/>
<rect x="96.8" y="217.3" width="47.4" height="16.6" rx="1.5" fill="#f4f8fb" stroke="#c5d3dd" stroke-width="0.5"/>
<rect x="98.5" y="218.8" width="44.2" height="13.8" rx="1" fill="#2b8fd3"/>
<line x1="100" y1="223.1" x2="138.5" y2="223.1" stroke="#a5d8f0" stroke-width="1.5"/>
<line x1="100" y1="228.0" x2="138.5" y2="228.0" stroke="#a5d8f0" stroke-width="1.5"/>
<path d="M80.8,220.8 H99" fill="none" stroke="#e2555d" stroke-width="1.3"/>
<path d="M98.5,220.8 H140.8 V230.7 H106" fill="none" stroke="#c0272d" stroke-width="1.7"/>
<line x1="99.5" y1="225.5" x2="138.5" y2="225.5" stroke="#c0272d" stroke-width="1.7"/>
<line x1="100" y1="230.7" x2="106" y2="230.7" stroke="#ddd" stroke-width="1.2"/>
<path d="M59.1,221.2 L62.8,215.9 V217.5 H80.8 V225.1 H62.8 V226.5 Z" fill="#f1ebe3" stroke="#e8892f" stroke-width="0.9"/>
<path d="M86.3,231.8 L82.5,226.5 V228.0 H64.3 V235.8 H82.5 V237.1 Z" fill="#f1ebe3" stroke="#e8892f" stroke-width="0.9"/>
<text x="71.5" y="220.8" font-size="2.4" stroke="none" fill-opacity="0.85" textLength="16.0" lengthAdjust="spacingAndGlyphs" text-anchor="middle">WATER OUTPUT</text>
<text x="71.5" y="223.9" font-size="2.4" stroke="none" fill-opacity="0.85" textLength="16.0" lengthAdjust="spacingAndGlyphs" text-anchor="middle">Salida de Agua</text>
<text x="74.8" y="231.3" font-size="2.4" stroke="none" fill-opacity="0.85" textLength="15.0" lengthAdjust="spacingAndGlyphs" text-anchor="middle">WATER INPUT</text>
<text x="74.8" y="234.4" font-size="2.4" stroke="none" fill-opacity="0.85" textLength="16.0" lengthAdjust="spacingAndGlyphs" text-anchor="middle">Entrada de Agua</text>
<polyline points="86.5,230.9 92.6,230.9" fill="none" stroke="#999" stroke-width="0.8"/>
<polygon points="94.8,230.9 92.6,232.1 92.6,229.7" fill="#999"/>
<circle cx="97.7" cy="230.9" r="2.3" fill="#fff" stroke="#888" stroke-width="0.8"/>
<polyline points="100.6,233.1 99.3,238.3" fill="none" stroke="#444" stroke-width="1.3"/>
<polyline points="101.8,234.1 105.8,244.0" fill="none" stroke="#777" stroke-width="0.6"/>
<circle cx="70.5" cy="214.7" r="0.9" fill="#d23"/>
<polyline points="70.5,214.7 70.5,217.1" fill="none" stroke="#c55" stroke-width="0.5"/>
<circle cx="76.5" cy="240.3" r="0.9" fill="#d23"/>
<polyline points="76.5,240.3 80.5,244.5" fill="none" stroke="#999" stroke-width="0.5"/>
<polyline points="132.4,213.5 132.4,220.7" fill="none" stroke="#444" stroke-width="0.6"/>
<rect x="734.8" y="162.3" width="46.2" height="14.2" rx="2" fill="#f4dcdc" stroke="#e03a3f" stroke-width="1.2"/>
<rect x="736.5" y="166.6" width="42" height="3.2" fill="#efc9a0"/>
<rect x="736.5" y="170.8" width="30" height="1.1" fill="#e8848c"/>
<rect x="736.5" y="173.2" width="30" height="1.1" fill="#e8848c"/>
<rect x="752" y="169.6" width="5" height="1.6" fill="#fff"/>
<rect x="766.5" y="171.6" width="13" height="2.6" fill="#eef3f8"/>
<path d="M780.3,162.8 h5 M780.3,165.8 h5" stroke="#e8892f" stroke-width="0.8" fill="none"/>
<path d="M807.6,165.3 L803.8,159.6 V161.2 H785.5 V169.2 H803.8 V170.8 Z" fill="#f1ebe3" stroke="#e8892f" stroke-width="0.9"/>
<path d="M803.2,174.3 L807.3,168.8 V170.3 H825.2 V178.3 H807.3 V179.8 Z" fill="#f1ebe3" stroke="#e8892f" stroke-width="0.9"/>
<text x="794.8" y="164.6" font-size="2.4" stroke="none" fill-opacity="0.85" textLength="16.0" lengthAdjust="spacingAndGlyphs" text-anchor="middle">WATER OUTPUT</text>
<text x="794.8" y="167.7" font-size="2.4" stroke="none" fill-opacity="0.85" textLength="16.0" lengthAdjust="spacingAndGlyphs" text-anchor="middle">Salida de Agua</text>
<text x="816.0" y="173.7" font-size="2.4" stroke="none" fill-opacity="0.85" textLength="15.0" lengthAdjust="spacingAndGlyphs" text-anchor="middle">WATER INPUT</text>
<text x="816.0" y="176.8" font-size="2.4" stroke="none" fill-opacity="0.85" textLength="16.0" lengthAdjust="spacingAndGlyphs" text-anchor="middle">Entrada de Agua</text>
<polyline points="781.5,174.7 787.3,174.7" fill="none" stroke="#999" stroke-width="0.8"/>
<polygon points="789.5,174.7 787.3,175.9 787.3,173.5" fill="#999"/>
<line x1="794.6" y1="174.7" x2="803" y2="174.7" stroke="#d67" stroke-width="0.7" stroke-dasharray="2 1"/>
<circle cx="792" cy="174.7" r="2.3" fill="#fff" stroke="#888" stroke-width="0.8"/>
<polyline points="794.0,176.7 794.7,182.2" fill="none" stroke="#555" stroke-width="1.2"/>
<circle cx="794.7" cy="158.3" r="0.9" fill="#d23"/>
<polyline points="794.7,158.3 794.7,160.5" fill="none" stroke="#c55" stroke-width="0.5"/>
<circle cx="813.8" cy="167.0" r="0.9" fill="#d23"/>
<polyline points="813.8,167.0 813.8,169.5" fill="none" stroke="#c55" stroke-width="0.5"/>
<polyline points="742.3,165.0 742.3,179.4" fill="none" stroke="#444" stroke-width="0.6"/>
<circle cx="742.3" cy="165" r="0.9" fill="#d23"/>
<rect x="734.8" y="219.1" width="46.2" height="14.2" rx="2" fill="#f4dcdc" stroke="#e03a3f" stroke-width="1.2"/>
<rect x="736.5" y="223.4" width="42" height="3.2" fill="#efc9a0"/>
<rect x="736.5" y="227.6" width="30" height="1.1" fill="#e8848c"/>
<rect x="736.5" y="230.0" width="30" height="1.1" fill="#e8848c"/>
<rect x="752" y="226.4" width="5" height="1.6" fill="#fff"/>
<rect x="766.5" y="228.4" width="13" height="2.6" fill="#eef3f8"/>
<path d="M780.3,219.6 h5 M780.3,222.6 h5" stroke="#e8892f" stroke-width="0.8" fill="none"/>
<path d="M807.6,222.1 L803.8,216.4 V218.0 H785.5 V226.0 H803.8 V227.6 Z" fill="#f1ebe3" stroke="#e8892f" stroke-width="0.9"/>
<path d="M803.2,231.1 L807.3,225.6 V227.1 H825.2 V235.1 H807.3 V236.6 Z" fill="#f1ebe3" stroke="#e8892f" stroke-width="0.9"/>
<text x="794.8" y="221.4" font-size="2.4" stroke="none" fill-opacity="0.85" textLength="16.0" lengthAdjust="spacingAndGlyphs" text-anchor="middle">WATER OUTPUT</text>
<text x="794.8" y="224.5" font-size="2.4" stroke="none" fill-opacity="0.85" textLength="16.0" lengthAdjust="spacingAndGlyphs" text-anchor="middle">Salida de Agua</text>
<text x="816.0" y="230.5" font-size="2.4" stroke="none" fill-opacity="0.85" textLength="15.0" lengthAdjust="spacingAndGlyphs" text-anchor="middle">WATER INPUT</text>
<text x="816.0" y="233.6" font-size="2.4" stroke="none" fill-opacity="0.85" textLength="16.0" lengthAdjust="spacingAndGlyphs" text-anchor="middle">Entrada de Agua</text>
<polyline points="781.5,231.5 787.3,231.5" fill="none" stroke="#999" stroke-width="0.8"/>
<polygon points="789.5,231.5 787.3,232.7 787.3,230.3" fill="#999"/>
<line x1="794.6" y1="231.5" x2="803" y2="231.5" stroke="#d67" stroke-width="0.7" stroke-dasharray="2 1"/>
<circle cx="792" cy="231.5" r="2.3" fill="#fff" stroke="#888" stroke-width="0.8"/>
<polyline points="794.0,233.5 794.7,239.0" fill="none" stroke="#555" stroke-width="1.2"/>
<circle cx="794.7" cy="215.1" r="0.9" fill="#d23"/>
<polyline points="794.7,215.1 794.7,217.3" fill="none" stroke="#c55" stroke-width="0.5"/>
<circle cx="813.8" cy="223.8" r="0.9" fill="#d23"/>
<polyline points="813.8,223.8 813.8,226.3" fill="none" stroke="#c55" stroke-width="0.5"/>
<polyline points="742.3,213.4 742.3,222.0" fill="none" stroke="#444" stroke-width="0.6"/>
<circle cx="742.3" cy="222" r="0.9" fill="#d23"/>
<rect x="196.7" y="162.9" width="14.6" height="13.8" rx="1" fill="#888d91"/>
<circle cx="204.0" cy="169.8" r="6.2" fill="#dedede" stroke="#5e6266" stroke-width="0.8"/>
<line x1="199.2" y1="167.9" x2="208.8" y2="171.7" stroke="#6a6e72" stroke-width="1.3"/>
<line x1="202.0" y1="165.0" x2="206.0" y2="174.6" stroke="#6a6e72" stroke-width="1.3"/>
<line x1="205.9" y1="165.0" x2="202.1" y2="174.6" stroke="#6a6e72" stroke-width="1.3"/>
<line x1="208.8" y1="167.8" x2="199.2" y2="171.8" stroke="#6a6e72" stroke-width="1.3"/>
<circle cx="204.0" cy="169.8" r="2.2" fill="#4a4a4a"/>
<circle cx="204.0" cy="169.8" r="0.9" fill="#ddd"/>
<rect x="192.9" y="177.3" width="22.4" height="1.4" fill="#222"/>
<path d="M178.5,169.6 q2.6,-2.2 5.2,0 q2.6,2.2 5.2,0 q2.6,-2.2 5.2,0" fill="none" stroke="#eea3ad" stroke-width="3" stroke-linecap="round"/>
<path d="M178.5,169.6 q2.6,-2.2 5.2,0 q2.6,2.2 5.2,0 q2.6,-2.2 5.2,0" fill="none" stroke="#f7dfe2" stroke-width="1.5" stroke-linecap="round"/>
<path d="M215.5,169.3 q2.5,-2.2 5.0,0 q2.5,2.2 5.0,0 q2.5,-2.2 5.0,0" fill="none" stroke="#bcdff0" stroke-width="2.8" stroke-linecap="round"/>
<circle cx="185" cy="164.8" r="1" fill="#d23"/>
<circle cx="222" cy="164.8" r="1" fill="#d23"/>
<polyline points="185.0,164.8 191.7,158.9 227.0,158.9" fill="none" stroke="#888" stroke-width="0.6"/>
<polyline points="222.0,164.8 250.5,170.5" fill="none" stroke="#999" stroke-width="0.6"/>
<rect x="196.7" y="219.4" width="14.6" height="13.8" rx="1" fill="#888d91"/>
<circle cx="204.0" cy="226.3" r="6.2" fill="#dedede" stroke="#5e6266" stroke-width="0.8"/>
<line x1="199.2" y1="224.4" x2="208.8" y2="228.2" stroke="#6a6e72" stroke-width="1.3"/>
<line x1="202.0" y1="221.5" x2="206.0" y2="231.1" stroke="#6a6e72" stroke-width="1.3"/>
<line x1="205.9" y1="221.5" x2="202.1" y2="231.1" stroke="#6a6e72" stroke-width="1.3"/>
<line x1="208.8" y1="224.3" x2="199.2" y2="228.3" stroke="#6a6e72" stroke-width="1.3"/>
<circle cx="204.0" cy="226.3" r="2.2" fill="#4a4a4a"/>
<circle cx="204.0" cy="226.3" r="0.9" fill="#ddd"/>
<rect x="192.9" y="233.8" width="22.4" height="1.4" fill="#222"/>
<path d="M178.5,226.1 q2.6,-2.2 5.2,0 q2.6,2.2 5.2,0 q2.6,-2.2 5.2,0" fill="none" stroke="#eea3ad" stroke-width="3" stroke-linecap="round"/>
<path d="M178.5,226.1 q2.6,-2.2 5.2,0 q2.6,2.2 5.2,0 q2.6,-2.2 5.2,0" fill="none" stroke="#f7dfe2" stroke-width="1.5" stroke-linecap="round"/>
<path d="M215.5,225.8 q2.5,-2.2 5.0,0 q2.5,2.2 5.0,0 q2.5,-2.2 5.0,0" fill="none" stroke="#bcdff0" stroke-width="2.8" stroke-linecap="round"/>
<circle cx="185" cy="221.3" r="1" fill="#d23"/>
<circle cx="222" cy="221.3" r="1" fill="#d23"/>
<polyline points="185.0,221.3 191.7,215.4 227.0,215.4" fill="none" stroke="#888" stroke-width="0.6"/>
<polyline points="222.0,221.3 250.5,227.0" fill="none" stroke="#999" stroke-width="0.6"/>
<rect x="668.4" y="166.8" width="17.5" height="13.9" rx="1" fill="#888d91"/>
<circle cx="677.1" cy="173.8" r="6.2" fill="#dedede" stroke="#5e6266" stroke-width="0.8"/>
<line x1="672.3" y1="171.8" x2="682.0" y2="175.7" stroke="#6a6e72" stroke-width="1.3"/>
<line x1="675.1" y1="168.9" x2="679.2" y2="178.6" stroke="#6a6e72" stroke-width="1.3"/>
<line x1="679.1" y1="168.9" x2="675.2" y2="178.6" stroke="#6a6e72" stroke-width="1.3"/>
<line x1="682.0" y1="171.7" x2="672.3" y2="175.8" stroke="#6a6e72" stroke-width="1.3"/>
<circle cx="677.1" cy="173.8" r="2.2" fill="#4a4a4a"/>
<circle cx="677.1" cy="173.8" r="0.9" fill="#ddd"/>
<rect x="665.5" y="181.2" width="23.8" height="1.4" fill="#222"/>
<path d="M649.0,172.6 q3.0,-2.2 6.0,0 q3.0,2.2 6.0,0 q3.0,-2.2 6.0,0" fill="none" stroke="#bcdff0" stroke-width="2.8" stroke-linecap="round"/>
<path d="M687.5,172.8 q2.8,-2.2 5.7,0 q2.8,2.2 5.7,0 q2.8,-2.2 5.7,0" fill="none" stroke="#eea3ad" stroke-width="3" stroke-linecap="round"/>
<path d="M687.5,172.8 q2.8,-2.2 5.7,0 q2.8,2.2 5.7,0 q2.8,-2.2 5.7,0" fill="none" stroke="#f7dfe2" stroke-width="1.5" stroke-linecap="round"/>
<circle cx="659.7" cy="168.2" r="1" fill="#d23"/>
<circle cx="697.5" cy="169.0" r="1" fill="#d23"/>
<polyline points="661.0,160.2 691.7,160.2 697.5,169.0" fill="none" stroke="#777" stroke-width="0.6"/>
<polyline points="659.7,168.2 659.7,174.0" fill="none" stroke="#999" stroke-width="0.5"/>
<rect x="668.4" y="223.6" width="17.5" height="13.9" rx="1" fill="#888d91"/>
<circle cx="677.1" cy="230.6" r="6.2" fill="#dedede" stroke="#5e6266" stroke-width="0.8"/>
<line x1="672.3" y1="228.6" x2="682.0" y2="232.5" stroke="#6a6e72" stroke-width="1.3"/>
<line x1="675.1" y1="225.7" x2="679.2" y2="235.4" stroke="#6a6e72" stroke-width="1.3"/>
<line x1="679.1" y1="225.7" x2="675.2" y2="235.4" stroke="#6a6e72" stroke-width="1.3"/>
<line x1="682.0" y1="228.5" x2="672.3" y2="232.6" stroke="#6a6e72" stroke-width="1.3"/>
<circle cx="677.1" cy="230.6" r="2.2" fill="#4a4a4a"/>
<circle cx="677.1" cy="230.6" r="0.9" fill="#ddd"/>
<rect x="665.5" y="238.0" width="23.8" height="1.4" fill="#222"/>
<path d="M649.0,229.4 q3.0,-2.2 6.0,0 q3.0,2.2 6.0,0 q3.0,-2.2 6.0,0" fill="none" stroke="#bcdff0" stroke-width="2.8" stroke-linecap="round"/>
<path d="M687.5,229.6 q2.8,-2.2 5.7,0 q2.8,2.2 5.7,0 q2.8,-2.2 5.7,0" fill="none" stroke="#eea3ad" stroke-width="3" stroke-linecap="round"/>
<path d="M687.5,229.6 q2.8,-2.2 5.7,0 q2.8,2.2 5.7,0 q2.8,-2.2 5.7,0" fill="none" stroke="#f7dfe2" stroke-width="1.5" stroke-linecap="round"/>
<circle cx="659.7" cy="225.0" r="1" fill="#d23"/>
<circle cx="697.5" cy="225.8" r="1" fill="#d23"/>
<polyline points="661.0,217.0 691.7,217.0 697.5,225.8" fill="none" stroke="#777" stroke-width="0.6"/>
<polyline points="659.7,225.0 659.7,230.8" fill="none" stroke="#999" stroke-width="0.5"/>
</svg>
</body></html>
